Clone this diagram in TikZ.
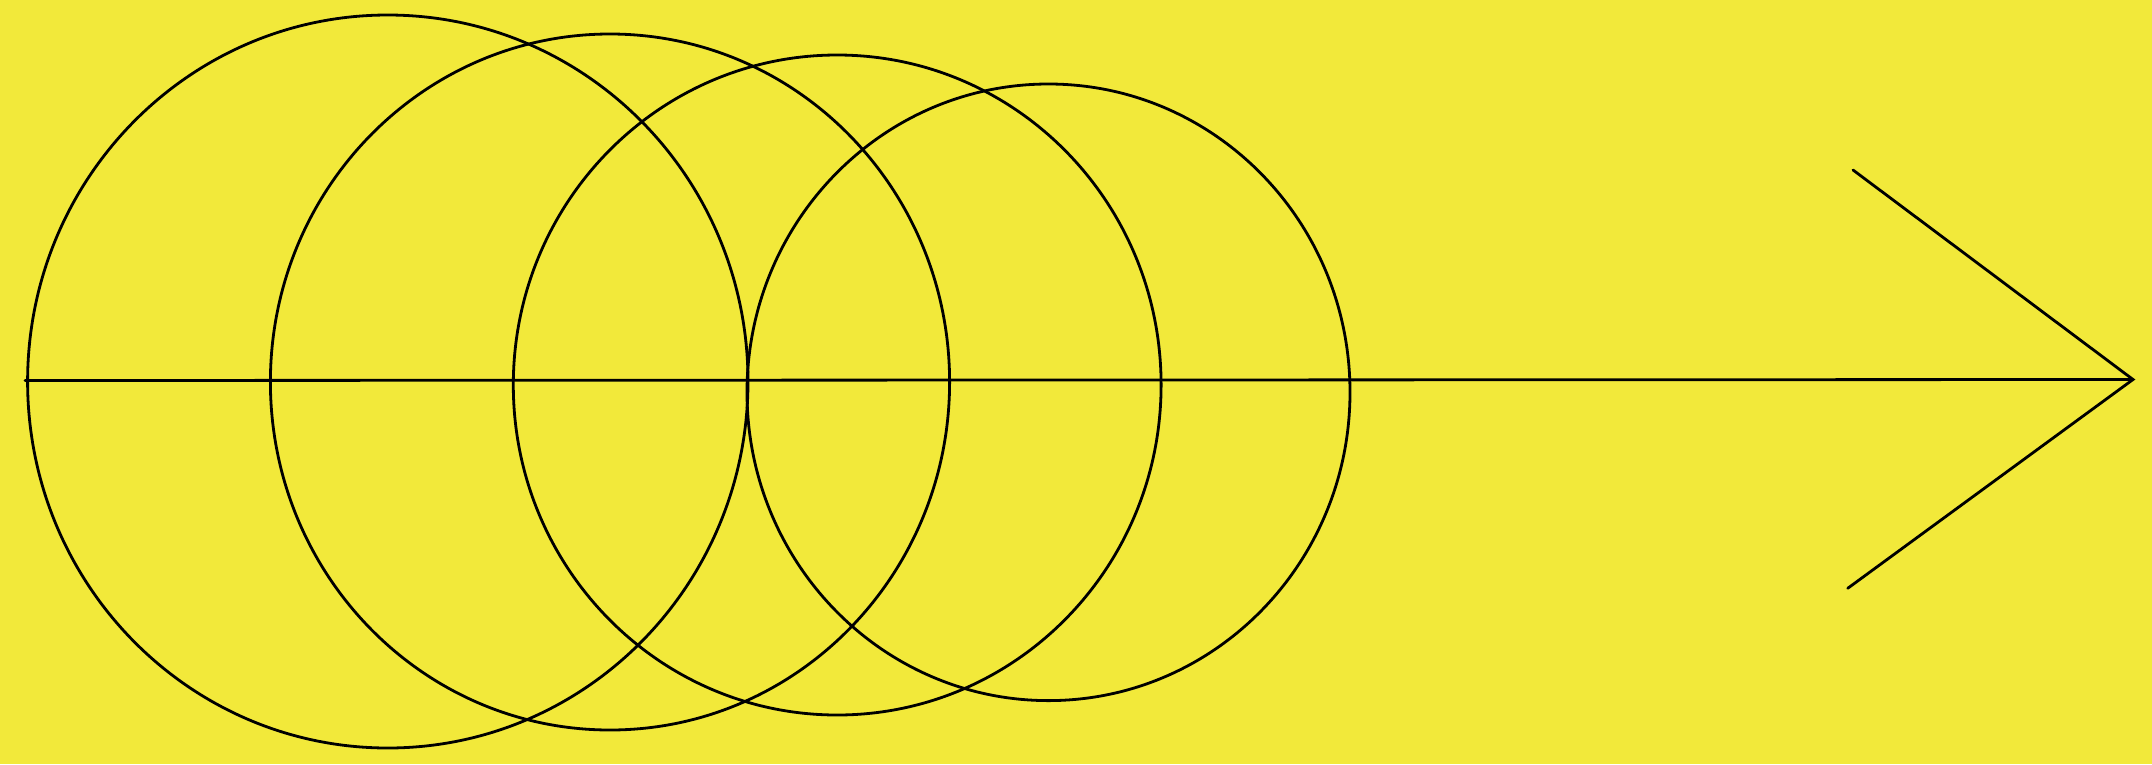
\documentclass[tikz,border=0pt]{standalone}
\definecolor{bgyellow}{RGB}{242,233,58}
\begin{document}
\begin{tikzpicture}[x=1pt,y=-1pt,
  ring/.style={draw=black,line width=2.8pt},
  stroke/.style={draw=black,line width=2.8pt,line cap=round}]
\fill[bgyellow] (0,0) rectangle (2152,764);
\useasboundingbox (0,0) rectangle (2152,764);
% circles
\coordinate (c1) at (387.8,381.5);
\coordinate (c2) at (610,382);
\coordinate (c3) at (837.2,385);
\coordinate (c4) at (1048.5,392.3);
\draw[ring] (c1) ellipse [x radius=360.2, y radius=366.5];
\draw[ring] (c2) ellipse [x radius=339.6, y radius=348];
\draw[ring] (c3) ellipse [x radius=323.9, y radius=330];
\draw[ring] (c4) ellipse [x radius=301.5, y radius=308.3];
% arrow
\coordinate (start) at (25,380.5);
\coordinate (tip) at (2133,379.5);
\coordinate (up) at (1853,170);
\coordinate (low) at (1847.7,588.3);
\draw[stroke] (start) -- (tip);
\draw[stroke] (up) -- (tip) -- (low);
\end{tikzpicture}
\end{document}
